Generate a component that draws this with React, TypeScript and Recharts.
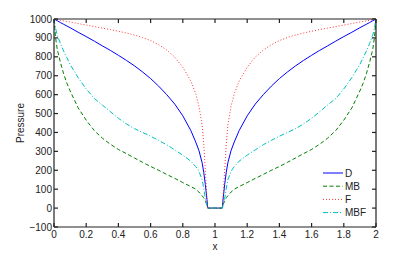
import React from 'react';
import { LineChart, Line, XAxis, YAxis, Legend } from 'recharts';

const xValues = [
  0, 0.01, 0.02, 0.04, 0.06, 0.08, 0.1, 0.15, 0.2, 0.25, 0.3, 0.35, 0.4, 0.45, 0.5,
  0.55, 0.6, 0.65, 0.7, 0.75, 0.8, 0.85, 0.88, 0.9, 0.92, 0.93, 0.94, 0.95, 0.955, 1,
  1.045, 1.05, 1.06, 1.07, 1.08, 1.1, 1.12, 1.15, 1.2, 1.25, 1.3, 1.35, 1.4, 1.45, 1.5,
  1.55, 1.6, 1.65, 1.7, 1.75, 1.8, 1.85, 1.9, 1.92, 1.94, 1.96, 1.98, 1.99, 2,
];

const dValues = [
  1000, 995, 991, 981, 972, 963, 954, 930, 907, 883, 858, 834, 808, 781, 752,
  720, 685, 645, 600, 550, 488, 410, 350, 305, 240, 190, 125, 45, 0, 0,
  0, 45, 125, 190, 240, 305, 350, 410, 488, 550, 600, 645, 685, 720, 752,
  781, 808, 834, 858, 883, 907, 930, 954, 963, 972, 981, 991, 995, 1000,
];

const mbValues = [
  1000, 900, 840, 770, 710, 660, 620, 530, 465, 410, 370, 338, 310, 288, 265,
  242, 220, 200, 178, 157, 135, 114, 100, 85, 65, 55, 40, 15, 0, 0,
  0, 15, 40, 55, 65, 85, 100, 114, 135, 157, 178, 200, 220, 242, 265,
  288, 310, 338, 370, 410, 465, 530, 620, 660, 710, 770, 840, 900, 1000,
];

const fValues = [
  1000, 998, 997, 993, 990, 987, 984, 976, 968, 960, 952, 944, 935, 926, 915,
  902, 886, 864, 836, 798, 745, 672, 605, 540, 440, 340, 200, 50, 0, 0,
  0, 50, 200, 340, 440, 540, 605, 672, 745, 798, 836, 864, 886, 902, 915,
  926, 935, 944, 952, 960, 968, 976, 984, 987, 990, 993, 997, 998, 1000,
];

const mbfValues = [
  1000, 950, 915, 870, 830, 795, 760, 690, 630, 580, 545, 510, 475, 445, 420,
  400, 380, 358, 335, 308, 280, 248, 220, 195, 150, 105, 50, 12, 0, 0,
  0, 12, 50, 105, 150, 195, 220, 248, 280, 308, 335, 358, 380, 400, 420,
  445, 475, 510, 545, 580, 630, 690, 760, 795, 830, 870, 915, 950, 1000,
];

const xTicks = [0, 0.2, 0.4, 0.6, 0.8, 1, 1.2, 1.4, 1.6, 1.8, 2];
const yTicks = [-100, 0, 100, 200, 300, 400, 500, 600, 700, 800, 900, 1000];

const seriesNames = ['D', 'MB', 'F', 'MBF'];
const seriesColors = ['#0000ff', '#008000', '#ff3333', '#00bfbf'];
const seriesDashes = [undefined, '4 2.5', '1 2', '5 2 1 2'];

const data = xValues.map((x, i) => ({
  x,
  D: dValues[i],
  MB: mbValues[i],
  F: fValues[i],
  MBF: mbfValues[i],
}));

const FONT = '"Liberation Sans", Arial, Helvetica, sans-serif';
const AXIS = '#222';

const fmtY = (v: number) => (v < 0 ? '\u2212' + Math.abs(v) : String(v));

const renderLegend = () => (
  <svg width={70} height={56} style={{ display: 'block' }}>
    {seriesNames.map((name, i) => (
      <g key={name}>
        <line
          x1={1}
          x2={21}
          y1={7 + i * 13.2}
          y2={7 + i * 13.2}
          stroke={seriesColors[i]}
          strokeWidth={1}
          strokeDasharray={seriesDashes[i]}
        />
        <text
          x={23}
          y={7 + i * 13.2}
          dominantBaseline="central"
          fontSize={10}
          fontFamily={FONT}
          fill={AXIS}
        >
          {name}
        </text>
      </g>
    ))}
  </svg>
);

export default function App() {
  return (
    <div style={{ position: 'absolute', left: 0, top: 0, background: '#fff' }}>
      <LineChart
        width={415}
        height={256}
        data={data}
        margin={{ top: 18, right: 34, bottom: 0, left: 0 }}
      >
        <XAxis
          xAxisId="b"
          dataKey="x"
          type="number"
          domain={[0, 2]}
          ticks={xTicks}
          orientation="bottom"
          height={29}
          tickSize={-4}
          tickMargin={8}
          stroke={AXIS}
          strokeWidth={1.2}
          tick={{ fontSize: 10, fontFamily: FONT, fill: AXIS }}
          label={{ value: 'x', position: 'insideBottom', offset: 6, fontSize: 10, fontFamily: FONT, fill: AXIS }}
          allowDataOverflow
        />
        <XAxis
          xAxisId="t"
          dataKey="x"
          type="number"
          domain={[0, 2]}
          ticks={xTicks}
          orientation="top"
          height={1}
          tickSize={-4}
          tickFormatter={() => ''}
          stroke={AXIS}
          strokeWidth={1.2}
          allowDataOverflow
        />
        <YAxis
          yAxisId="l"
          type="number"
          domain={[-100, 1000]}
          ticks={yTicks}
          orientation="left"
          width={54}
          tickSize={-4}
          tickMargin={6}
          tickFormatter={fmtY}
          stroke={AXIS}
          strokeWidth={1.2}
          tick={{ fontSize: 10, fontFamily: FONT, fill: AXIS }}
          label={{ value: 'Pressure', angle: -90, position: 'insideLeft', offset: 20, fontSize: 10, fontFamily: FONT, fill: AXIS, style: { textAnchor: 'middle' } }}
          allowDataOverflow
        />
        <YAxis
          yAxisId="r"
          type="number"
          domain={[-100, 1000]}
          ticks={yTicks}
          orientation="right"
          width={5}
          tickSize={-4}
          tickFormatter={() => ''}
          stroke={AXIS}
          strokeWidth={1.2}
          allowDataOverflow
        />
        {seriesNames.map((name, i) => (
          <Line
            key={name}
            xAxisId="b"
            yAxisId="l"
            type="linear"
            dataKey={name}
            stroke={seriesColors[i]}
            strokeWidth={1}
            strokeDasharray={seriesDashes[i]}
            dot={false}
            activeDot={false}
            isAnimationActive={false}
          />
        ))}
        <Legend
          layout="vertical"
          align="center"
          verticalAlign="middle"
          content={renderLegend}
          wrapperStyle={{ position: 'absolute', left: 322, top: 166, width: 70, height: 56 }}
        />
      </LineChart>
    </div>
  );
}
